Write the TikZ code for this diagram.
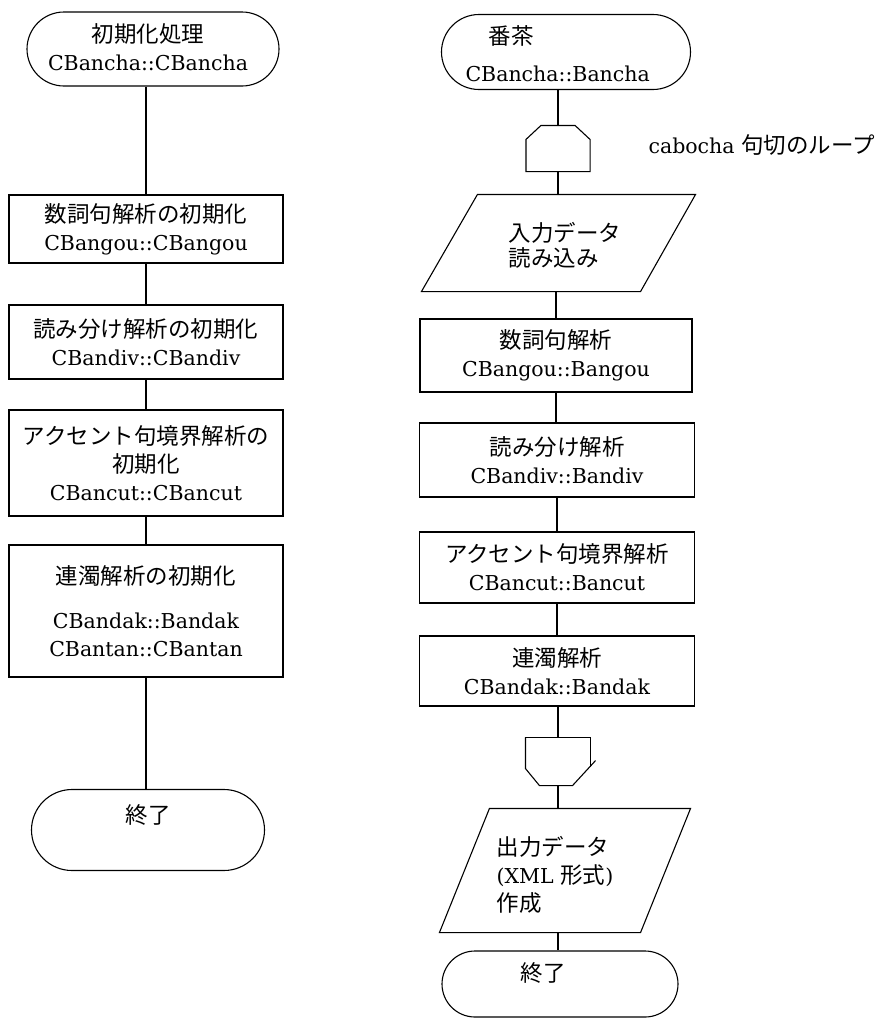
\documentclass[tikz,border=0pt]{standalone}
\usepackage{fontspec}
\setmainfont{DejaVu Serif}
\newfontfamily\jp{Noto Sans CJK JP}
\usetikzlibrary{shapes.misc,calc}
\newcommand\J[1]{{\jp\fontsize{22.5}{28}\selectfont #1}}
\begin{document}
\begin{tikzpicture}[x=1pt,y=-1pt, line width=1.1pt,
  every node/.style={font=\fontsize{20.5}{28}\selectfont, inner sep=0pt},
  proc/.style={draw, rectangle, align=center},
  term/.style={draw, rounded rectangle},
  ghost/.style={rectangle, inner sep=0pt},
  lbl/.style={align=center}]
\useasboundingbox (0,0) rectangle (877,1021);
% left column
\node[term, minimum width=252pt, minimum height=74pt] (l0) at (153,49) {};
\node[lbl] (l0t) at (148,47) {\J{初期化処理}\\CBancha::CBancha};
\node[proc, minimum width=274pt, minimum height=68pt] (l1) at (146,229) {\J{数詞句解析の初期化}\\CBangou::CBangou};
\node[proc, minimum width=274pt, minimum height=74pt] (l2) at (146,342) {\J{読み分け解析の初期化}\\CBandiv::CBandiv};
\node[proc, minimum width=274pt, minimum height=106pt] (l3) at (146,463) {\J{アクセント句境界解析の}\\\J{初期化}\\CBancut::CBancut};
\node[proc, minimum width=274pt, minimum height=132pt] (l4) at (146,611) {\J{連濁解析の初期化}\\[16pt]CBandak::Bandak\\CBantan::CBantan};
\node[term, minimum width=233pt, minimum height=81pt] (l5) at (148,830) {};
\node (l5t) at (148,815) {\J{終了}};
\draw (l0.south -| l1.north) -- (l1.north);
\draw (l1.south) -- (l2.north);
\draw (l2.south) -- (l3.north);
\draw (l3.south) -- (l4.north);
\draw (l4.south) -- (l5.north -| l4.south);
% right column
\node[term, minimum width=249pt, minimum height=75pt] (r0) at (566,52) {};
\node[align=left, anchor=west] (r0t) at (465,54) {\hspace*{23pt}\J{番茶}\\[9pt]CBancha::Bancha};
\node[ghost, minimum width=63pt, minimum height=45pt] (ls) at (558,148.5) {};
\draw (ls.south west) -- ([yshift=-14pt]ls.north west) -- ([xshift=15pt]ls.north west) -- ([xshift=-15pt]ls.north east) -- ([yshift=-14pt]ls.north east) -- (ls.south east) -- cycle;
\node[anchor=west] (lsl) at (648,145) {cabocha \J{句切のループ}};
\node[ghost, minimum width=273pt, minimum height=96pt] (p1) at (558.5,243) {};
\draw ([xshift=56pt]p1.north west) -- (p1.north east) -- ([xshift=-55pt]p1.south east) -- (p1.south west) -- cycle;
\node[align=left, anchor=west] (p1t) at (508,245) {\J{入力データ}\\[-3pt]\J{読み込み}};
\node[proc, minimum width=272pt, minimum height=73pt] (r1) at (556,355.5) {\J{数詞句解析}\\CBangou::Bangou};
\node[proc, minimum width=275pt, minimum height=74pt] (r2) at (557,460) {\J{読み分け解析}\\CBandiv::Bandiv};
\node[proc, minimum width=275pt, minimum height=71pt] (r3) at (557,567.5) {\J{アクセント句境界解析}\\CBancut::Bancut};
\node[proc, minimum width=275pt, minimum height=70pt] (r4) at (557,671) {\J{連濁解析}\\CBandak::Bandak};
\node[ghost, minimum width=64pt, minimum height=47pt] (le) at (558,761.5) {};
\draw (le.north west) -- (le.north east) -- ([yshift=19pt]le.south east);
\draw ([xshift=5pt,yshift=25pt]le.south east) -- ([xshift=-18pt]le.south east) -- ([xshift=14pt]le.south west) -- ([yshift=17pt]le.south west) -- (le.north west);
\node[ghost, minimum width=250pt, minimum height=123pt] (p2) at (565,870.5) {};
\draw ([xshift=50pt]p2.north west) -- (p2.north east) -- ([xshift=-50pt]p2.south east) -- (p2.south west) -- cycle;
\node[align=left, anchor=west] (p2t) at (496,875) {\J{出力データ}\\(XML \J{形式})\\\J{作成}};
\node[term, minimum width=236pt, minimum height=66pt] (r5) at (560,984) {};
\node (r5t) at (543,973) {\J{終了}};
\draw (r0.south -| ls.north) -- (ls.north);
\draw (ls.south) -- (p1.north -| ls.south);
\draw (p1.south -| r1.north) -- (r1.north);
\draw (r1.south) -- (r2.north -| r1.south);
\draw (r2.south) -- (r3.north);
\draw (r3.south) -- (r4.north);
\draw (r4.south -| le.north) -- (le.north);
\draw (le.south) -- (p2.north -| le.south);
\draw (p2.south -| le.south) -- (r5.north -| le.south);
\end{tikzpicture}
\end{document}
